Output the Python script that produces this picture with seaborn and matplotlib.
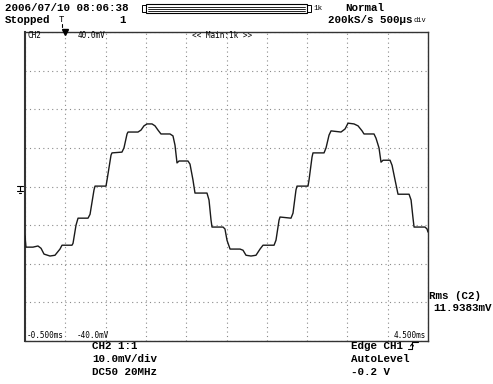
import numpy as np
import pandas as pd
import matplotlib
matplotlib.use("Agg")
import matplotlib.pyplot as plt
from matplotlib.lines import Line2D
from matplotlib.patches import Rectangle
import seaborn as sns

time_ms = [-0.500, -0.488, -0.401, -0.339, -0.301, -0.264, -0.190, -0.128, -0.066, -0.041,
           0.083, 0.096, 0.133, 0.158, 0.282, 0.307, 0.356, 0.369, 0.505, 0.518,
           0.567, 0.579, 0.703, 0.728, 0.766, 0.778, 0.902, 0.939, 0.976, 1.014,
           1.076, 1.113, 1.150, 1.187, 1.299, 1.336, 1.361, 1.386, 1.411, 1.522,
           1.547, 1.584, 1.609, 1.758, 1.783, 1.808, 1.820, 1.957, 1.981, 2.006,
           2.044, 2.168, 2.205, 2.242, 2.304, 2.366, 2.416, 2.453, 2.590, 2.614,
           2.652, 2.664, 2.800, 2.825, 2.862, 2.875, 3.011, 3.024, 3.061, 3.073,
           3.210, 3.235, 3.272, 3.297, 3.421, 3.471, 3.508, 3.582, 3.632, 3.682,
           3.706, 3.830, 3.855, 3.892, 3.917, 3.942, 4.029, 4.054, 4.091, 4.128,
           4.265, 4.290, 4.314, 4.327, 4.463, 4.488, 4.500]
volt_mv = [-12.8, -15.7, -15.7, -15.4, -16.0, -17.5, -18.0, -17.8, -16.2, -15.2,
           -15.2, -14.7, -10.0, -8.2, -8.2, -7.2, -0.9, 0.1, 0.1, 1.7,
           8.1, 8.7, 8.9, 10.0, 13.6, 14.1, 14.1, 14.6, 15.7, 16.2,
           16.2, 15.7, 14.6, 13.6, 13.6, 13.1, 10.7, 6.1, 6.6, 6.6,
           5.8, 1.7, -1.7, -1.7, -3.5, -8.7, -10.5, -10.5, -11.0, -13.9,
           -16.2, -16.2, -16.5, -17.8, -18.0, -17.8, -16.2, -15.2, -15.2, -13.9,
           -8.7, -7.9, -8.2, -6.9, -0.9, 0.1, 0.1, 1.7, 7.6, 8.7,
           8.7, 10.0, 13.3, 14.4, 14.1, 14.9, 16.4, 16.2, 15.7, 14.4,
           13.6, 13.6, 12.5, 10.0, 6.3, 6.8, 6.8, 5.5, 1.7, -2.0,
           -2.0, -3.5, -8.2, -10.5, -10.5, -11.0, -11.8]

x_range_ms = [-0.5, 4.5]
y_range_mv = [-40.0, 40.0]
x_div_ms = 0.5
y_div_mv = 10.0

header_date = "2006/07/10 08:06:38"
header_state = "Stopped"
header_mode = "Normal"
header_rate = "200kS/s 500µs"
header_rate_unit = "div"
record_len = "1k"
acq_count = "1"
zoom_label = "<< Main:1k >>"
ch_label = "CH2"
top_volt_label = "40.0mV"
bottom_volt_label = "-40.0mV"
left_time_label = "-0.500ms"
right_time_label = "4.500ms"
ch_info = ["CH2 1:1", "10.0mV/div", "DC50 20MHz"]
trig_info = ["Edge CH1", "AutoLevel", "-0.2 V"]
meas_info = ["Rms (C2)", "11.9383mV"]

# ---------------- figure ----------------
W, H = 493, 384
sns.set_style("white")
plt.rcParams["font.family"] = ["Liberation Mono", "DejaVu Sans Mono", "DejaVu Sans"]

fig = plt.figure(figsize=(W / 100, H / 100), dpi=100)
L, R, T, B = 25, 428, 32, 341
ax = fig.add_axes([L / W, 1 - B / H, (R - L) / W, (B - T) / H])

df = pd.DataFrame({"t": time_ms, "v": volt_mv})
sns.lineplot(data=df, x="t", y="v", ax=ax, color="#1a1a1a", lw=1.0,
             sort=False, estimator=None, zorder=3)

ax.set_xlim(*x_range_ms)
ax.set_ylim(*y_range_mv)
ax.set_xticks(np.arange(x_range_ms[0], x_range_ms[1] + 1e-9, x_div_ms))
ax.set_yticks(np.arange(y_range_mv[0], y_range_mv[1] + 1e-9, y_div_mv))
ax.tick_params(length=0, labelbottom=False, labelleft=False)
ax.set_xlabel("")
ax.set_ylabel("")
ax.grid(True, color="#8a8a8a", lw=0.8, linestyle=(0, (1, 3)))
for s in ax.spines.values():
    s.set_color("#333333")
    s.set_linewidth(1.0)
ax.spines["left"].set_linewidth(1.5)


def ftxt(x, y, s, size=7.8, ha="left", va="center", weight="bold", **kw):
    fig.text(x / W, 1 - y / H, s, fontsize=size, ha=ha, va=va,
             weight=weight, color="black", **kw)


def fline(xs, ys, lw=0.8, color="black"):
    fig.add_artist(Line2D([x / W for x in xs], [1 - y / H for y in ys],
                          lw=lw, color=color, transform=fig.transFigure))


# header
ftxt(5, 8, header_date)
ftxt(5, 20, header_state)
ftxt(119, 20, acq_count)
ftxt(345, 8, header_mode)
ftxt(412, 20, header_rate, ha="right")
ftxt(413, 21, header_rate_unit, size=5.0, weight="normal")
ftxt(313, 9, record_len, size=5.5, weight="normal")

# record bar
fig.add_artist(Rectangle((146 / W, 1 - 13 / H), (307 - 146) / W, 9 / H,
                         fill=False, lw=0.8, ec="black", transform=fig.transFigure))
fig.add_artist(Rectangle((142 / W, 1 - 12 / H), 4 / W, 7 / H,
                         fill=False, lw=0.7, ec="black", transform=fig.transFigure))
fig.add_artist(Rectangle((307 / W, 1 - 12 / H), 4 / W, 7 / H,
                         fill=False, lw=0.7, ec="black", transform=fig.transFigure))
for yy in (6.5, 8.5, 10.5):
    fline([148, 305], [yy, yy], lw=0.6)

# trigger icon and position marker
ftxt(59, 20, "T", size=6.5, weight="normal")
fline([62, 62], [24, 27], lw=0.8)
ax.plot([0.0], [1.0], marker="v", ms=4, color="black",
        transform=ax.get_xaxis_transform(), clip_on=False, zorder=5)

# inside-screen labels
ftxt(27, 36, ch_label, size=5.5, weight="normal", family="DejaVu Sans Mono")
ftxt(78, 36, top_volt_label, size=5.5, weight="normal", family="DejaVu Sans Mono")
ftxt(192, 36, zoom_label, size=5.5, weight="normal", family="DejaVu Sans Mono")
ftxt(27, 336, left_time_label, size=5.5, weight="normal", family="DejaVu Sans Mono")
ftxt(77, 335, bottom_volt_label, size=5.5, weight="normal", family="DejaVu Sans Mono")
ftxt(426, 336, right_time_label, size=5.5, weight="normal", ha="right",
     family="DejaVu Sans Mono")

# ground marker
fline([17, 23], [186, 186])
fline([20, 20], [186, 191])
fline([17, 23], [191, 191])
fline([19, 21], [193, 193])

# bottom info
for i, s in enumerate(ch_info):
    ftxt(92, 346 + 13 * i, s)
for i, s in enumerate(trig_info):
    ftxt(351, 346 + 13 * i, s)
# rising edge symbol
fline([408, 412, 412, 418], [349, 349, 342, 342])
fline([410.5, 412, 413.5], [346, 344, 346])

# measurement
ftxt(429, 296, meas_info[0])
ftxt(492, 308, meas_info[1], ha="right")

fig.savefig("out.png", dpi=100)
